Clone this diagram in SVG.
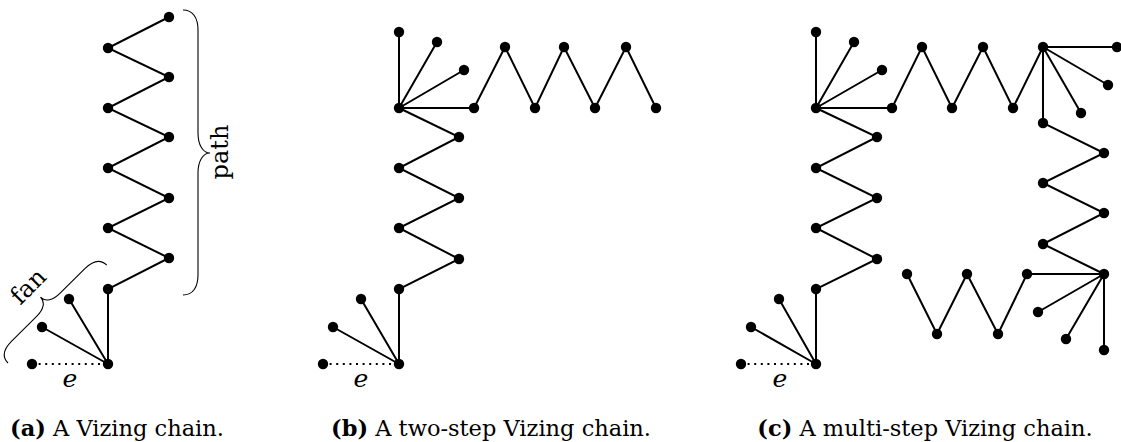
<svg xmlns="http://www.w3.org/2000/svg" width="1121" height="442" viewBox="0 0 1121 442">
<style>
.n{fill:#000}
.e{fill:none;stroke:#000;stroke-width:2;stroke-linejoin:miter}
.d{fill:none;stroke:#000;stroke-width:2;stroke-dasharray:2 4.6}
.b{fill:none;stroke:#000;stroke-width:1.1}
.t{font-family:"DejaVu Serif","Liberation Serif",serif;font-size:24px;fill:#000}
.it{font-family:"DejaVu Serif","Liberation Serif",serif;font-size:25px;font-style:italic;fill:#000}
.cap{font-family:"DejaVu Serif","Liberation Serif",serif;font-size:22.5px;fill:#000}
</style>
<defs>
<circle id="dot" r="5.2"/>
</defs>
<rect width="1121" height="442" fill="#fff"/>
<g id="connectors">
<polyline class="e" points="108,364 108,289 169,258 108,228 169,198 108,168 169,137 108,108 169,77 108,48 169,17"/>
<path class="e" d="M108,364L69,299M108,364L42,327"/>
<path class="d" d="M32,364H108"/>
<polyline class="e" points="399,364 399,289 459,259 399,228 459,198 399,168 459,137 399,108 474,108 505,47 535,108 564,47 595,108 626,47 656,108"/>
<path class="e" d="M399,108L399,32M399,108L437,42M399,108L464,70M399,364L361,299M399,364L333,327"/>
<path class="d" d="M323,364H399"/>
<polyline class="e" points="816,364 816,289 877,259 816,228 877,198 816,168 877,137 816,108 892,108 922,47 952,108 983,47 1013,108 1043,47 1043,123 1104,153 1043,183 1104,213 1043,244 1104,274 1027,274 998,334 967,274 937,334 907,274"/>
<path class="e" d="M816,108L816,32M816,108L854,42M816,108L882,70M1043,47L1117,47M1043,47L1108,85M1043,47L1081,113M1104,274L1038,312M1104,274L1066,339M1104,274L1104,350M816,364L779,299M816,364L751,327"/>
<path class="d" d="M741,364H816"/>
</g>
<g id="braces">
<path class="b" d="M183,10 C193,10 198,18 198,30 L198,133 C198,145 203,153 210,153 C203,153 198,161 198,173 L198,275 C198,287 193,295 183,295"/>
<path class="b" transform="translate(8,363) rotate(-44.7)" d="M0,0 C0,-9 7,-13 18,-13 L53.5,-13 C63,-13 69.5,-17 69.5,-24 C69.5,-17 76,-13 85.5,-13 L121,-13 C132,-13 139,-9 139,0"/>
</g>
<g id="labels">
<text class="t" transform="translate(228,152) rotate(-90)" text-anchor="middle">path</text>
<text class="t" transform="translate(34,292) rotate(-45)" text-anchor="middle">fan</text>
<text class="it" x="70" y="387" text-anchor="middle">e</text>
<text class="it" x="361" y="387" text-anchor="middle">e</text>
<text class="it" x="780" y="387" text-anchor="middle">e</text>
<text class="cap" x="117" y="436" text-anchor="middle"><tspan font-weight="bold">(a)</tspan> A Vizing chain.</text>
<text class="cap" x="491" y="436" text-anchor="middle"><tspan font-weight="bold">(b)</tspan> A two-step Vizing chain.</text>
<text class="cap" x="925" y="436" text-anchor="middle"><tspan font-weight="bold">(c)</tspan> A multi-step Vizing chain.</text>
</g>
<g id="nodes-a">
<g id="a0"><use href="#dot" class="n" x="108" y="364"/></g>
<g id="a1"><use href="#dot" class="n" x="69" y="299"/></g>
<g id="a2"><use href="#dot" class="n" x="42" y="327"/></g>
<g id="a3"><use href="#dot" class="n" x="32" y="364"/></g>
<g id="a4"><use href="#dot" class="n" x="108" y="289"/></g>
<g id="a5"><use href="#dot" class="n" x="169" y="258"/></g>
<g id="a6"><use href="#dot" class="n" x="108" y="228"/></g>
<g id="a7"><use href="#dot" class="n" x="169" y="198"/></g>
<g id="a8"><use href="#dot" class="n" x="108" y="168"/></g>
<g id="a9"><use href="#dot" class="n" x="169" y="137"/></g>
<g id="a10"><use href="#dot" class="n" x="108" y="108"/></g>
<g id="a11"><use href="#dot" class="n" x="169" y="77"/></g>
<g id="a12"><use href="#dot" class="n" x="108" y="48"/></g>
<g id="a13"><use href="#dot" class="n" x="169" y="17"/></g>
</g>
<g id="nodes-b">
<g id="b0"><use href="#dot" class="n" x="399" y="364"/></g>
<g id="b1"><use href="#dot" class="n" x="361" y="299"/></g>
<g id="b2"><use href="#dot" class="n" x="333" y="327"/></g>
<g id="b3"><use href="#dot" class="n" x="323" y="364"/></g>
<g id="b4"><use href="#dot" class="n" x="399" y="289"/></g>
<g id="b5"><use href="#dot" class="n" x="459" y="259"/></g>
<g id="b6"><use href="#dot" class="n" x="399" y="228"/></g>
<g id="b7"><use href="#dot" class="n" x="459" y="198"/></g>
<g id="b8"><use href="#dot" class="n" x="399" y="168"/></g>
<g id="b9"><use href="#dot" class="n" x="459" y="137"/></g>
<g id="b10"><use href="#dot" class="n" x="399" y="108"/></g>
<g id="b11"><use href="#dot" class="n" x="399" y="32"/></g>
<g id="b12"><use href="#dot" class="n" x="437" y="42"/></g>
<g id="b13"><use href="#dot" class="n" x="464" y="70"/></g>
<g id="b14"><use href="#dot" class="n" x="474" y="108"/></g>
<g id="b15"><use href="#dot" class="n" x="505" y="47"/></g>
<g id="b16"><use href="#dot" class="n" x="535" y="108"/></g>
<g id="b17"><use href="#dot" class="n" x="564" y="47"/></g>
<g id="b18"><use href="#dot" class="n" x="595" y="108"/></g>
<g id="b19"><use href="#dot" class="n" x="626" y="47"/></g>
<g id="b20"><use href="#dot" class="n" x="656" y="108"/></g>
</g>
<g id="nodes-c">
<g id="c0"><use href="#dot" class="n" x="816" y="364"/></g>
<g id="c1"><use href="#dot" class="n" x="779" y="299"/></g>
<g id="c2"><use href="#dot" class="n" x="751" y="327"/></g>
<g id="c3"><use href="#dot" class="n" x="741" y="364"/></g>
<g id="c4"><use href="#dot" class="n" x="816" y="289"/></g>
<g id="c5"><use href="#dot" class="n" x="877" y="259"/></g>
<g id="c6"><use href="#dot" class="n" x="816" y="228"/></g>
<g id="c7"><use href="#dot" class="n" x="877" y="198"/></g>
<g id="c8"><use href="#dot" class="n" x="816" y="168"/></g>
<g id="c9"><use href="#dot" class="n" x="877" y="137"/></g>
<g id="c10"><use href="#dot" class="n" x="816" y="108"/></g>
<g id="c11"><use href="#dot" class="n" x="816" y="32"/></g>
<g id="c12"><use href="#dot" class="n" x="854" y="42"/></g>
<g id="c13"><use href="#dot" class="n" x="882" y="70"/></g>
<g id="c14"><use href="#dot" class="n" x="892" y="108"/></g>
<g id="c15"><use href="#dot" class="n" x="922" y="47"/></g>
<g id="c16"><use href="#dot" class="n" x="952" y="108"/></g>
<g id="c17"><use href="#dot" class="n" x="983" y="47"/></g>
<g id="c18"><use href="#dot" class="n" x="1013" y="108"/></g>
<g id="c19"><use href="#dot" class="n" x="1043" y="47"/></g>
<g id="c20"><use href="#dot" class="n" x="1117" y="47"/></g>
<g id="c21"><use href="#dot" class="n" x="1108" y="85"/></g>
<g id="c22"><use href="#dot" class="n" x="1081" y="113"/></g>
<g id="c23"><use href="#dot" class="n" x="1043" y="123"/></g>
<g id="c24"><use href="#dot" class="n" x="1104" y="153"/></g>
<g id="c25"><use href="#dot" class="n" x="1043" y="183"/></g>
<g id="c26"><use href="#dot" class="n" x="1104" y="213"/></g>
<g id="c27"><use href="#dot" class="n" x="1043" y="244"/></g>
<g id="c28"><use href="#dot" class="n" x="1104" y="274"/></g>
<g id="c29"><use href="#dot" class="n" x="1027" y="274"/></g>
<g id="c30"><use href="#dot" class="n" x="1038" y="312"/></g>
<g id="c31"><use href="#dot" class="n" x="1066" y="339"/></g>
<g id="c32"><use href="#dot" class="n" x="1104" y="350"/></g>
<g id="c33"><use href="#dot" class="n" x="998" y="334"/></g>
<g id="c34"><use href="#dot" class="n" x="967" y="274"/></g>
<g id="c35"><use href="#dot" class="n" x="937" y="334"/></g>
<g id="c36"><use href="#dot" class="n" x="907" y="274"/></g>
</g>
</svg>
